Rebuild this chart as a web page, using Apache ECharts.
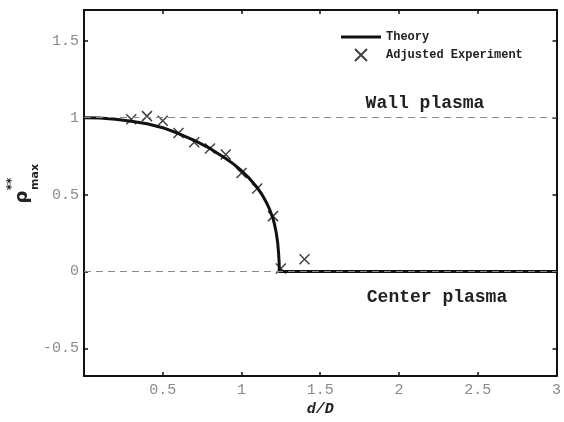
<!DOCTYPE html>
<html>
<head>
<meta charset="utf-8">
<script src="https://cdn.jsdelivr.net/npm/echarts@6/dist/echarts.min.js"></script>
<style>
  html, body { margin: 0; padding: 0; background: #fff; }
  #chart { width: 564px; height: 422px; }
</style>
</head>
<body>
<div id="chart"></div>
<script>
// theory curve
var theoryX = [0, 0.1, 0.2, 0.3, 0.4, 0.5, 0.6, 0.7, 0.8, 0.9, 0.95, 1.0, 1.05, 1.1, 1.13, 1.16, 1.18, 1.2, 1.21, 1.22, 1.23, 1.235, 1.239, 1.24, 3];
var theoryY = [1, 0.998, 0.99, 0.977, 0.96, 0.935, 0.897, 0.852, 0.80, 0.735, 0.698, 0.655, 0.605, 0.545, 0.5, 0.445, 0.4, 0.345, 0.305, 0.255, 0.185, 0.125, 0.06, 0, 0];
// adjusted experiment points
var expX = [0.3, 0.4, 0.5, 0.6, 0.7, 0.8, 0.9, 1.0, 1.1, 1.2, 1.25, 1.4];
var expY = [0.99, 1.01, 0.98, 0.90, 0.84, 0.80, 0.76, 0.64, 0.54, 0.36, 0.02, 0.08];
// reference levels
var refLevels = [1, 0];
var xTicks = [0.5, 1, 1.5, 2, 2.5, 3];
var yTicks = [-0.5, 0, 0.5, 1, 1.5];

var mono = '"Liberation Mono", "DejaVu Sans Mono", monospace';
var crossPath = 'path://M0,0L10,10M10,0L0,10';

function pairs(xs, ys) {
    var out = [];
    for (var i = 0; i < xs.length; i++) {
        out.push([xs[i], ys[i]]);
    }
    return out;
}

var myChart = echarts.init(document.getElementById('chart'));

function axisBase(pos, ticks, showLabel) {
    return {
        type: 'value',
        position: pos,
        axisLine: { show: true, onZero: false, lineStyle: { color: '#111', width: 2 } },
        axisTick: { show: true, inside: true, length: 4, customValues: ticks, lineStyle: { color: '#111', width: 1.5 } },
        axisLabel: {
            show: showLabel,
            customValues: ticks,
            color: '#8a8a8a',
            fontFamily: mono,
            fontSize: 15,
            margin: 6
        },
        splitLine: { show: false }
    };
}

var xBottom = axisBase('bottom', xTicks, true);
xBottom.min = 0; xBottom.max = 3;
xBottom.name = 'd/D';
xBottom.nameLocation = 'middle';
xBottom.nameGap = 21;
xBottom.nameTextStyle = { fontFamily: mono, fontStyle: 'italic', fontWeight: 'bold', fontSize: 15, color: '#222' };
var xTop = axisBase('top', xTicks, false);
xTop.min = 0; xTop.max = 3;

var yLeft = axisBase('left', yTicks, true);
yLeft.min = -0.68; yLeft.max = 1.7;
yLeft.axisLabel.margin = 5;
var yRight = axisBase('right', yTicks, false);
yRight.min = -0.68; yRight.max = 1.7;

var refData = refLevels.map(function (v) {
    return { yAxis: v };
});

option = {
    backgroundColor: '#fff',
    animation: false,
    grid: { left: 84, right: 6, top: 10, bottom: 37 },
    xAxis: [xBottom, xTop],
    yAxis: [yLeft, yRight],
    legend: {
        orient: 'vertical',
        left: 336,
        top: 26,
        itemWidth: 40,
        itemHeight: 12,
        itemGap: 5,
        symbolKeepAspect: true,
        textStyle: { fontFamily: mono, fontWeight: 'bold', fontSize: 12, color: '#222' },
        data: [
            { name: 'Theory', icon: 'path://M0,0L40,0L40,3L0,3Z', itemStyle: { color: '#111' } },
            { name: 'Adjusted Experiment', icon: 'path://M0,0L8,8M8,0L0,8', itemStyle: { color: 'transparent', borderColor: '#111', borderWidth: 2 } }
        ]
    },
    graphic: [
        { type: 'text', x: 425, y: 103, style: { text: 'Wall plasma', fontFamily: mono, fontWeight: 'bold', fontSize: 18, fill: '#222', align: 'center', verticalAlign: 'middle' } },
        { type: 'text', x: 437, y: 297, style: { text: 'Center plasma', fontFamily: mono, fontWeight: 'bold', fontSize: 18, fill: '#222', align: 'center', verticalAlign: 'middle' } },
        { type: 'text', x: 22, y: 197, rotation: Math.PI / 2, style: { text: 'ρ', fontFamily: 'DejaVu Sans', fontWeight: 'bold', fontSize: 18, fill: '#222', align: 'center', verticalAlign: 'middle' } },
        { type: 'text', x: 12, y: 184, rotation: Math.PI / 2, style: { text: '**', fontFamily: 'DejaVu Sans', fontWeight: 'bold', fontSize: 12, fill: '#222', align: 'center', verticalAlign: 'middle' } },
        { type: 'text', x: 35, y: 177, rotation: Math.PI / 2, style: { text: 'max', fontFamily: 'DejaVu Sans', fontWeight: 'bold', fontSize: 11, fill: '#222', align: 'center', verticalAlign: 'middle' } }
    ],
    series: [
        {
            name: 'ref',
            type: 'line',
            data: [],
            z: 1,
            markLine: {
                silent: true,
                symbol: 'none',
                label: { show: false },
                lineStyle: { type: [7, 5], color: '#888', width: 1.2 },
                data: refData
            }
        },
        {
            name: 'Theory',
            type: 'line',
            symbol: 'none',
            z: 3,
            lineStyle: { color: '#111', width: 3, join: 'round' },
            itemStyle: { color: '#111' },
            data: pairs(theoryX, theoryY)
        },
        {
            name: 'Adjusted Experiment',
            type: 'scatter',
            symbol: crossPath,
            symbolSize: 10,
            symbolKeepAspect: true,
            z: 4,
            itemStyle: { color: 'transparent', borderColor: '#111', borderWidth: 1.5 },
            data: pairs(expX, expY)
        }
    ]
};
myChart.setOption(option);
</script>
</body>
</html>
